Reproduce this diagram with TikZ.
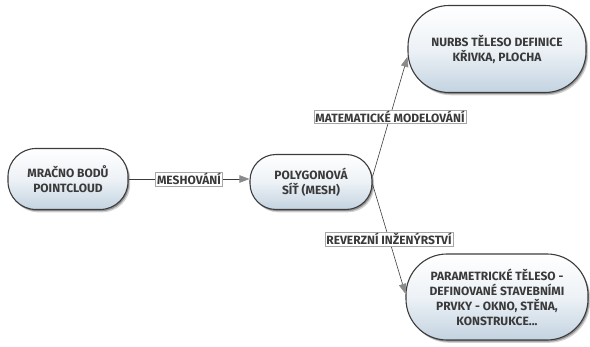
\documentclass[tikz,border=0pt]{standalone}
\usepackage{fontspec}
\setmainfont{Fira Sans}
\usetikzlibrary{shadows,arrows.meta}
\definecolor{linegray}{HTML}{3C3C3C}
\definecolor{tipgray}{HTML}{8A8A8A}
\definecolor{textgray}{HTML}{3A3A3A}
\definecolor{paleblue}{HTML}{C3D3E1}
\tikzset{
  topic/.style={draw=linegray, line width=1.1pt, align=center,
    top color=white, bottom color=paleblue, middle color=white!70!paleblue,
    text=textgray,
    font=\bfseries\fontsize{12}{15}\selectfont, inner sep=0pt,
    drop shadow={shadow xshift=2.2pt, shadow yshift=-2.8pt, opacity=0.18, fill=black},
    drop shadow={shadow xshift=1.2pt, shadow yshift=-1.6pt, opacity=0.3, fill=black}},
  link/.style={draw=linegray, line width=0.6pt,
    -{Triangle[length=10pt,width=7.5pt,color=tipgray,fill=tipgray]}},
  linklabel/.style={draw=black!35, fill=white, line width=0.5pt, text=textgray,
    font=\bfseries\fontsize{12}{13}\selectfont, inner xsep=1.5pt, inner ysep=1pt}
}
\begin{document}
\begin{tikzpicture}[x=1pt,y=-1pt]
\useasboundingbox (0,0) rectangle (590,347);

\node[topic, minimum width=120pt, minimum height=61pt, rounded corners=28pt]
  (cloud) at (68,179) {MRAČNO BODŮ\\POINTCLOUD};
\node[topic, minimum width=122pt, minimum height=55pt, rounded corners=26pt]
  (mesh) at (311,182) {POLYGONOVÁ\\SÍŤ (MESH)};
\node[topic, minimum width=178pt, minimum height=87pt, rounded corners=41pt]
  (nurbs) at (497,49) {NURBS TĚLESO DEFINICE\\KŘIVKA, PLOCHA};
\node[topic, minimum width=182pt, minimum height=86pt, rounded corners=41pt]
  (param) at (497,297) {PARAMETRICKÉ TĚLESO -\\DEFINOVANÉ STAVEBNÍMI\\PRVKY - OKNO, STĚNA,\\KONSTRUKCE...};

\draw[link] (cloud.east) -- (cloud.east -| mesh.west)
  node[linklabel, midway] (lmesh) {MESHOVÁNÍ};
\draw[link] (mesh.5) -- (nurbs.185)
  node[linklabel, pos=0.5] (lmath) {MATEMATICKÉ MODELOVÁNÍ};
\draw[link] (mesh.-2) -- (param.178)
  node[linklabel, pos=0.5] (lrev) {REVERZNÍ INŽENÝRSTVÍ};
\end{tikzpicture}
\end{document}
